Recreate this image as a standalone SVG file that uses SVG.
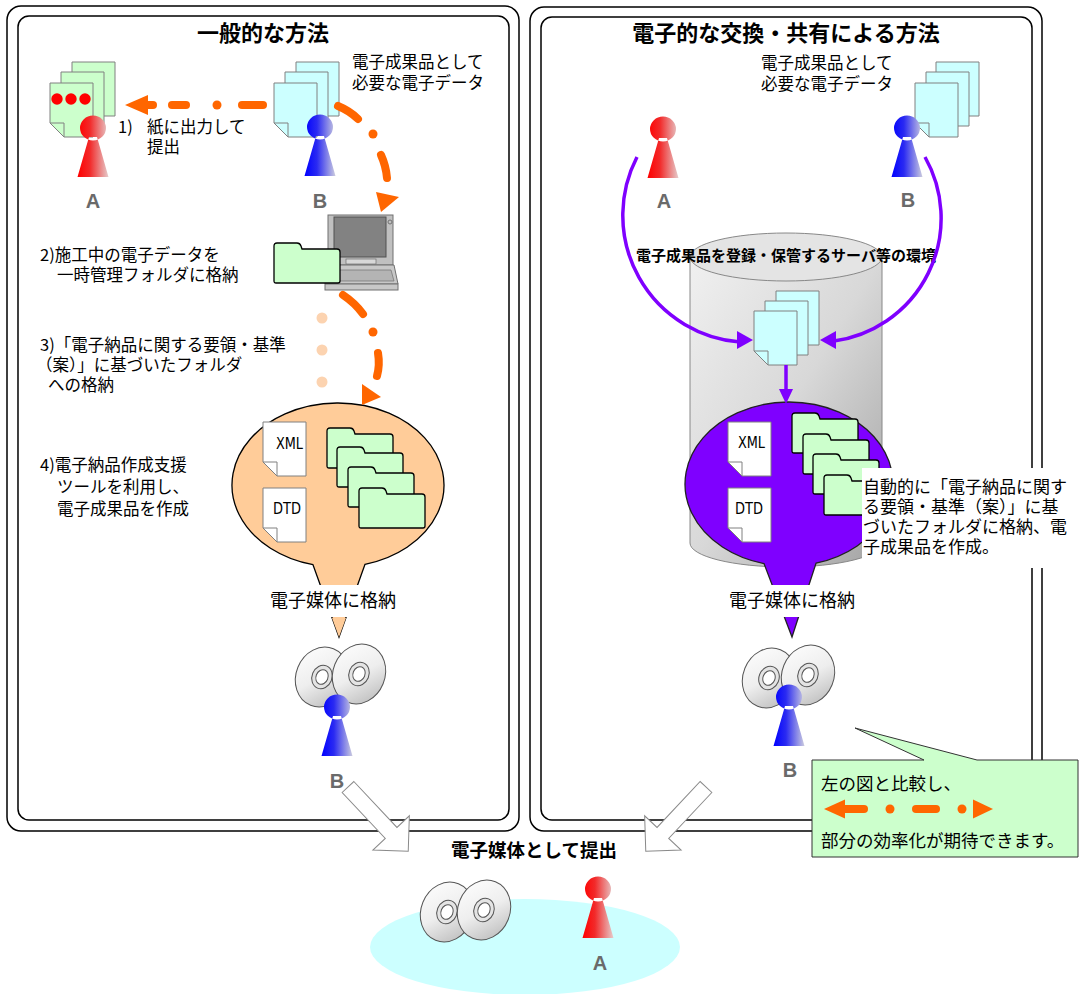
<svg xmlns="http://www.w3.org/2000/svg" width="1086" height="994" viewBox="0 0 1086 994">
<defs>
  <linearGradient id="gRed" x1="0" y1="0" x2="1" y2="0">
    <stop offset="0" stop-color="#ff0000"/><stop offset="0.4" stop-color="#f22a2a"/><stop offset="1" stop-color="#e6cccc"/>
  </linearGradient>
  <linearGradient id="gBlue" x1="0" y1="0" x2="1" y2="0">
    <stop offset="0" stop-color="#0000ff"/><stop offset="0.4" stop-color="#2a2af2"/><stop offset="1" stop-color="#ccccdf"/>
  </linearGradient>
  <linearGradient id="gDisc" x1="0" y1="0" x2="1" y2="1">
    <stop offset="0" stop-color="#ffffff"/><stop offset="0.5" stop-color="#eeeeee"/><stop offset="1" stop-color="#b4b4b4"/>
  </linearGradient>
  <linearGradient id="gCyl" x1="0" y1="0" x2="1" y2="1">
    <stop offset="0" stop-color="#f0f0f0"/><stop offset="0.5" stop-color="#d8d8d8"/><stop offset="1" stop-color="#a2a2a2"/>
  </linearGradient>
  <!-- person: round head on a tapering body, head centre at 0,0 -->
  <path id="person" d="M-13 0a13 12.5 0 1 0 26 0a13 12.5 0 1 0 -26 0Z M-4 9 L4 9 L15.5 49 L-15.5 49Z"/>
  <!-- document page with folded lower-left corner -->
  <path id="page" d="M0 0H43V54H14L0 40Z"/>
  <path id="fold" d="M0 40H14V54Z"/>
  <!-- tabbed folder -->
  <path id="folder" d="M3 0H23Q26 0 27 3L28 6H63Q66 6 66 9V38Q66 40 64 40H2Q0 40 0 38V3Q0 0 3 0Z"/>
  <!-- disc -->
  <g id="disc">
    <ellipse rx="26" ry="30.5" transform="rotate(22)" fill="url(#gDisc)" stroke="#555" stroke-width="1"/>
    <ellipse rx="10" ry="12" transform="rotate(22)" fill="#e4e4e4" stroke="#555" stroke-width="1"/>
    <ellipse rx="6" ry="7.5" transform="rotate(22)" fill="#fff" stroke="#555" stroke-width="1"/>
  </g>
  <!-- wide hollow arrow pointing along +x -->
  <path id="bigArrow" d="M0 -8H63V-25L88 0L63 25V8H0Z"/>
</defs>
<style>
  text { font-family: "Noto Sans CJK JP", "Noto Sans CJK SC", sans-serif; fill: #000; }
  .t { font-size: 16.5px; }
  .title { font-size: 22px; font-weight: bold; text-anchor: middle; }
  .mid { text-anchor: middle; }
  .lbl { font-family: "Liberation Sans", Arial, sans-serif; font-weight: bold; font-size: 20px; fill: #6a6a6a; text-anchor: middle; }
  .code { font-family: "DejaVu Sans Condensed", "Liberation Sans", sans-serif; font-size: 16px; }
  .frame { fill: none; stroke: #000; stroke-width: 1.5; }
  .pg { stroke: #808080; stroke-width: 1; }
  .cyan { fill: #ccffff; }
  .green { fill: #ccffcc; }
  .white { fill: #ffffff; }
  .folder { fill: #ccffcc; stroke: #000; stroke-width: 1.3; }
  .dash { fill: none; stroke: #ff6600; stroke-width: 8; stroke-linecap: round; }
  .dot { fill: #ff6600; }
  .faint { fill: #fcd3b0; }
  .arc { fill: none; stroke: #7f00ff; stroke-width: 3.5; }
  .phead { fill: #7f00ff; }
  .hollow { fill: #fff; stroke: #8a8a8a; stroke-width: 1; }
</style>

<rect width="1086" height="994" fill="#fff"/>

<!-- panel frames -->
<g id="frames">
  <rect class="frame" x="7" y="6" width="512" height="825" rx="14"/>
  <rect class="frame" x="18" y="16" width="491" height="804" rx="11"/>
  <rect class="frame" x="530" y="7" width="512" height="824" rx="14"/>
  <rect class="frame" x="541" y="17" width="491" height="803" rx="11"/>
</g>

<text class="title" x="263" y="41">一般的な方法</text>
<text class="title" x="786" y="41">電子的な交換・共有による方法</text>

<!-- ===== left panel ===== -->
<g id="paperA">
  <use href="#page" class="green pg" x="72" y="62"/>
  <use href="#fold" class="green pg" x="72" y="62"/>
  <use href="#page" class="green pg" x="61" y="72"/>
  <use href="#fold" class="green pg" x="61" y="72"/>
  <use href="#page" class="green pg" x="50" y="83"/>
  <use href="#fold" class="green pg" x="50" y="83"/>
  <circle cx="57" cy="99" r="5.7" fill="#ff0000"/>
  <circle cx="71" cy="99" r="5.7" fill="#ff0000"/>
  <circle cx="85" cy="99" r="5.7" fill="#ff0000"/>
</g>
<g id="personA1">
  <use href="#person" x="93" y="128" fill="url(#gRed)"/>
  <text class="lbl" x="93" y="208">A</text>
</g>

<g id="dataB1">
  <use href="#page" class="cyan pg" x="296" y="62"/>
  <use href="#fold" class="cyan pg" x="296" y="62"/>
  <use href="#page" class="cyan pg" x="285" y="72"/>
  <use href="#fold" class="cyan pg" x="285" y="72"/>
  <use href="#page" class="cyan pg" x="274" y="83"/>
  <use href="#fold" class="cyan pg" x="274" y="83"/>
</g>
<g id="personB1">
  <use href="#person" x="320" y="127" fill="url(#gBlue)"/>
  <text class="lbl" x="320" y="208">B</text>
</g>
<text class="t" x="352" y="68">電子成果品として</text>
<text class="t" x="352" y="89">必要な電子データ</text>
<text class="t" x="118" y="133">1)<tspan x="147">紙に出力して</tspan></text>
<text class="t" x="147" y="153">提出</text>

<g id="laptop">
  <rect x="328" y="215" width="65" height="50" fill="#c0c0c0" stroke="#707070"/>
  <rect x="334" y="217" width="52" height="40" fill="#828282" stroke="#505050"/>
  <circle cx="390" cy="222" r="2" fill="none" stroke="#707070"/>
  <rect x="346" y="259" width="30" height="5" fill="#d8d8d8" stroke="#707070" stroke-width="0.7"/>
  <path d="M328 265H394L398 284H325Z" fill="#c8c8c8" stroke="#707070"/>
  <path d="M331 270H391L394 281H329Z" fill="#b4b4b4" stroke="#707070" stroke-width="0.7"/>
  <rect x="325" y="284" width="73" height="6" fill="#c8c8c8" stroke="#707070"/>
  <use href="#folder" class="folder" x="274" y="243"/>
</g>

<text class="t" x="40" y="261">2)施工中の電子データを</text>
<text class="t" x="57" y="281">一時管理フォルダに格納</text>
<text class="t" x="40" y="351">3)「電子納品に関する要領・基準</text>
<text class="t" x="36" y="371">（案）」に基づいたフォルダ</text>
<text class="t" x="48" y="391">への格納</text>
<text class="t" x="40" y="471">4)電子納品作成支援</text>
<text class="t" x="57" y="493">ツールを利用し、</text>
<text class="t" x="57" y="515">電子成果品を作成</text>

<g id="balloonL">
  <path d="M313 564.7A106 82 0 1 1 365 564.3L339 637Z" fill="#ffcc99" stroke="#000" stroke-width="1.3"/>
  <use href="#page" class="white pg" x="263" y="422"/>
  <use href="#fold" class="white pg" x="263" y="422"/>
  <text class="code" x="276" y="449" textLength="27" lengthAdjust="spacingAndGlyphs">XML</text>
  <use href="#page" class="white pg" x="263" y="488"/>
  <use href="#fold" class="white pg" x="263" y="488"/>
  <text class="code" x="273" y="514" textLength="28" lengthAdjust="spacingAndGlyphs">DTD</text>
  <use href="#folder" class="folder" x="327" y="428"/>
  <use href="#folder" class="folder" x="337" y="447"/>
  <use href="#folder" class="folder" x="348" y="467"/>
  <use href="#folder" class="folder" x="359" y="488"/>
  <rect x="258" y="585" width="150" height="32" fill="#fff"/>
  <text class="mid" x="333" y="607" font-size="18">電子媒体に格納</text>
</g>

<g id="mediaB1">
  <use href="#disc" x="322" y="677"/>
  <use href="#disc" x="359" y="674"/>
  <use href="#person" x="337" y="707" fill="url(#gBlue)"/>
  <text class="lbl" x="337" y="788">B</text>
</g>

<!-- ===== right panel ===== -->
<g id="dataB2">
  <use href="#page" class="cyan pg" x="936" y="62"/>
  <use href="#fold" class="cyan pg" x="936" y="62"/>
  <use href="#page" class="cyan pg" x="926" y="72"/>
  <use href="#fold" class="cyan pg" x="926" y="72"/>
  <use href="#page" class="cyan pg" x="915" y="83"/>
  <use href="#fold" class="cyan pg" x="915" y="83"/>
</g>
<text class="t" x="761" y="69">電子成果品として</text>
<text class="t" x="761" y="90">必要な電子データ</text>
<g id="personA2">
  <use href="#person" x="663" y="129" fill="url(#gRed)"/>
  <text class="lbl" x="664" y="208">A</text>
</g>
<g id="personB2">
  <use href="#person" x="907" y="128" fill="url(#gBlue)"/>
  <text class="lbl" x="908" y="207">B</text>
</g>

<g id="server">
  <path d="M690 257V543A96 24 0 0 0 882 543V257Z" fill="url(#gCyl)" stroke="#888" stroke-width="1"/>
  <ellipse cx="786" cy="257" rx="96" ry="24" fill="#e4e4e4" stroke="#888" stroke-width="1"/>
  <use href="#page" class="cyan pg" x="776" y="291"/>
  <use href="#fold" class="cyan pg" x="776" y="291"/>
  <use href="#page" class="cyan pg" x="765" y="301"/>
  <use href="#fold" class="cyan pg" x="765" y="301"/>
  <use href="#page" class="cyan pg" x="754" y="311"/>
  <use href="#fold" class="cyan pg" x="754" y="311"/>
  <text class="mid" x="786" y="261" font-size="15" font-weight="bold">電子成果品を登録・保管するサーバ等の環境</text>
</g>

<g id="balloonR">
  <path d="M764 563.6A104 82 0 1 1 816 563.2L792 637Z" fill="#7f00ff" stroke="#222" stroke-width="1.3"/>
  <use href="#page" class="white pg" x="728" y="422"/>
  <use href="#fold" class="white pg" x="728" y="422"/>
  <text class="code" x="738" y="448" textLength="27" lengthAdjust="spacingAndGlyphs">XML</text>
  <use href="#page" class="white pg" x="728" y="488"/>
  <use href="#fold" class="white pg" x="728" y="488"/>
  <text class="code" x="735" y="514" textLength="28" lengthAdjust="spacingAndGlyphs">DTD</text>
  <use href="#folder" class="folder" x="792" y="413"/>
  <use href="#folder" class="folder" x="803" y="434"/>
  <use href="#folder" class="folder" x="813" y="454"/>
  <use href="#folder" class="folder" x="824" y="475"/>
  <rect x="712" y="585" width="160" height="32" fill="#fff"/>
  <text class="mid" x="792" y="607" font-size="18">電子媒体に格納</text>
</g>

<g id="autoNote">
  <rect x="862" y="468" width="210" height="100" fill="#fff"/>
  <text x="863" y="493" font-size="17">自動的に「電子納品に関す</text>
  <text x="863" y="513" font-size="17">る要領・基準（案）」に基</text>
  <text x="863" y="533" font-size="17">づいたフォルダに格納、電</text>
  <text x="863" y="553" font-size="17">子成果品を作成。</text>
</g>

<g id="mediaB2">
  <use href="#disc" x="769" y="678"/>
  <use href="#disc" x="808" y="675"/>
  <use href="#person" x="789" y="697" fill="url(#gBlue)"/>
  <text class="lbl" x="790" y="777">B</text>
</g>

<!-- ===== submission ===== -->
<g id="submit">
  <ellipse cx="525" cy="947" rx="155" ry="48" fill="#ccffff"/>
  <use href="#disc" x="447" y="912"/>
  <use href="#disc" x="484" y="910"/>
  <use href="#person" x="598" y="889" fill="url(#gRed)"/>
  <text class="lbl" x="600" y="970">A</text>
</g>
<text class="mid" x="534" y="857" font-size="18.5" font-weight="bold">電子媒体として提出</text>

<!-- ===== connectors ===== -->
<g id="connectors">
  <!-- 1) paper hand-over -->
  <path class="dash" d="M242 105H263"/>
  <circle class="dot" cx="217" cy="105" r="4.5"/>
  <path class="dash" d="M172 105H186"/>
  <path class="dash" d="M148 105H153"/>
  <polygon class="dot" points="125,105 148,95 148,115"/>
  <!-- data to PC -->
  <path class="dash" d="M338 106Q350 111 358 119"/>
  <circle class="dot" cx="373" cy="134" r="4.5"/>
  <path class="dash" d="M381 155Q386 166 387 178"/>
  <polygon class="dot" points="376,192 399,197 381,212"/>
  <!-- PC to folder structure -->
  <path class="dash" d="M343 295Q355 303 363 314"/>
  <circle class="dot" cx="373" cy="332" r="4.5"/>
  <path class="dash" d="M378 353Q380 365 377 376"/>
  <polygon class="dot" points="362,384 381,397 362,405"/>
  <circle class="faint" cx="322" cy="318" r="5.5"/>
  <circle class="faint" cx="322" cy="350" r="5.5"/>
  <circle class="faint" cx="322" cy="382" r="5.5"/>
  <!-- balloon tail to media -->
  <polygon points="332,618 346,618 339,637" fill="#ffcc99"/>
  <!-- shared server flows -->
  <path class="arc" d="M637 157A127 127 0 0 0 740 342"/>
  <polygon class="phead" points="753,340 737,331 737,349"/>
  <path class="arc" d="M925 157A124 124 0 0 1 834 341"/>
  <polygon class="phead" points="820,340 836,331 836,349"/>
  <path class="arc" d="M786 365V392"/>
  <polygon class="phead" points="779,389 793,389 786,404"/>
  <!-- submission arrows -->
  <use href="#bigArrow" class="hollow" transform="translate(348 787) rotate(46.8)"/>
  <use href="#bigArrow" class="hollow" transform="translate(706 787) rotate(133.2)"/>
</g>

<!-- comparison note -->
<g id="compareNote">
  <path d="M812 760H924L855 728L977 760H1078V857H812Z" fill="#ccffcc" stroke="#333" stroke-width="1"/>
  <text x="821" y="790" font-size="17.5">左の図と比較し、</text>
  <polygon class="dot" points="824,809 845,799.5 845,818.5"/>
  <path class="dash" d="M845 809H864"/>
  <circle class="dot" cx="890" cy="809" r="4.5"/>
  <path class="dash" d="M916 809H936"/>
  <circle class="dot" cx="962" cy="809" r="4.5"/>
  <polygon class="dot" points="993,809 973,799.5 973,818.5"/>
  <text x="821" y="847" font-size="17.5">部分の効率化が期待できます。</text>
</g>
</svg>
